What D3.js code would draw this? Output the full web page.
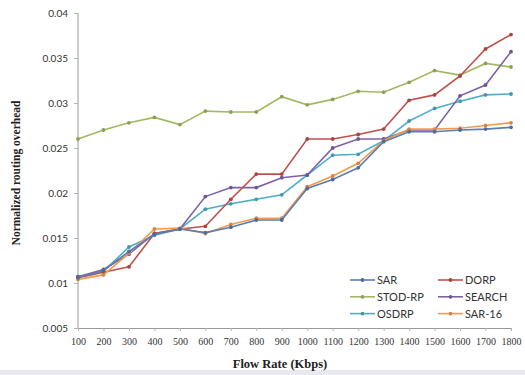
<!DOCTYPE html>
<html>
<head>
<meta charset="utf-8">
<script src="https://cdn.jsdelivr.net/npm/d3@7"></script>
<style>
  body { margin: 0; background: #fff; }
  svg { display: block; }
</style>
</head>
<body>
<div id="chart"></div>
<script>
// flow rates (Kbps)
const flowRates = [100, 200, 300, 400, 500, 600, 700, 800, 900, 1000, 1100, 1200, 1300, 1400, 1500, 1600, 1700, 1800];
const yTicks = [0.005, 0.01, 0.015, 0.02, 0.025, 0.03, 0.035, 0.04];

const sar    = [0.0106, 0.0114, 0.0135, 0.0154, 0.0160, 0.0156, 0.0162, 0.0170, 0.0170, 0.0205, 0.0215, 0.0228, 0.0257, 0.0268, 0.0268, 0.0270, 0.0271, 0.0273];
const dorp   = [0.0106, 0.0112, 0.0118, 0.0155, 0.0160, 0.0163, 0.0193, 0.0221, 0.0221, 0.0260, 0.0260, 0.0265, 0.0271, 0.0303, 0.0309, 0.0330, 0.0360, 0.0376];
const stodrp = [0.0260, 0.0270, 0.0278, 0.0284, 0.0276, 0.0291, 0.0290, 0.0290, 0.0307, 0.0298, 0.0304, 0.0313, 0.0312, 0.0323, 0.0336, 0.0331, 0.0344, 0.0340];
const search = [0.0107, 0.0115, 0.0132, 0.0155, 0.0160, 0.0196, 0.0206, 0.0206, 0.0217, 0.0220, 0.0250, 0.0260, 0.0260, 0.0270, 0.0270, 0.0308, 0.0320, 0.0357];
const osdrp  = [0.0107, 0.0113, 0.0140, 0.0153, 0.0160, 0.0182, 0.0188, 0.0193, 0.0198, 0.0220, 0.0242, 0.0243, 0.0258, 0.0280, 0.0294, 0.0302, 0.0309, 0.0310];
const sar16  = [0.0104, 0.0109, 0.0133, 0.0160, 0.0161, 0.0155, 0.0165, 0.0172, 0.0172, 0.0207, 0.0219, 0.0233, 0.0258, 0.0271, 0.0271, 0.0272, 0.0275, 0.0278];

// drawing order + legend order (2 columns)
const series = [
  { name: "STOD-RP", values: stodrp, color: "#a3b862" },
  { name: "OSDRP",   values: osdrp,  color: "#4eaec8" },
  { name: "SEARCH",  values: search, color: "#7e62a3" },
  { name: "DORP",    values: dorp,   color: "#c0504d" },
  { name: "SAR-16",  values: sar16,  color: "#f49a4e" },
  { name: "SAR",     values: sar,    color: "#5a7db3" }
];
const legendOrder = ["SAR", "DORP", "STOD-RP", "SEARCH", "OSDRP", "SAR-16"];

const width = 525, height = 375;
const margin = { left: 78, right: 14, top: 13, bottom: 47 };

const svg = d3.select("#chart").append("svg")
    .attr("width", width)
    .attr("height", height);

// light strip at the bottom of the picture
svg.append("rect")
    .attr("x", 0).attr("y", 370)
    .attr("width", width).attr("height", 5)
    .attr("fill", "#e7eaee");

const x = d3.scalePoint()
    .domain(flowRates)
    .range([margin.left, width - margin.right]);

const y = d3.scaleLinear()
    .domain([0.005, 0.04])
    .range([height - margin.bottom, margin.top]);

const xAxis = svg.append("g")
    .attr("transform", "translate(0," + (height - margin.bottom) + ")")
    .call(d3.axisBottom(x).tickSize(3).tickPadding(7));

const yAxis = svg.append("g")
    .attr("transform", "translate(" + margin.left + ",0)")
    .call(d3.axisLeft(y).tickValues(yTicks).tickSize(4).tickPadding(6)
        .tickFormat(d => d3.format("")(+d.toFixed(3))));

[xAxis, yAxis].forEach(g => {
  g.select(".domain").attr("stroke", "#9a9a9a");
  g.selectAll(".tick line").attr("stroke", "#b5b5b5");
  g.selectAll(".tick text")
      .attr("fill", "#333")
      .style("font-size", "10px");
});
xAxis.selectAll(".tick text").style("font-family", "'Liberation Serif', 'Times New Roman', serif");
yAxis.selectAll(".tick text").style("font-family", "Lato, 'Open Sans', sans-serif");
yAxis.select(".domain").attr("d", "M0," + y(0.005) + "V" + y(0.04));

const line = d3.line()
    .x((d, i) => x(flowRates[i]))
    .y(d => y(d));

series.forEach(s => {
  svg.append("path")
      .datum(s.values)
      .attr("fill", "none")
      .attr("stroke", s.color)
      .attr("stroke-width", 1.6)
      .attr("d", line);

  svg.append("g").selectAll("circle")
      .data(s.values)
      .enter().append("circle")
      .attr("cx", (d, i) => x(flowRates[i]))
      .attr("cy", d => y(d))
      .attr("r", 1.9)
      .attr("fill", d3.color(s.color).darker(0.4));
});

// axis titles
svg.append("text")
    .attr("transform", "translate(20,173) rotate(-90)")
    .attr("text-anchor", "middle")
    .style("font-family", "'Liberation Serif', 'Times New Roman', serif")
    .style("font-weight", "bold")
    .style("font-size", "11.5px")
    .attr("fill", "#222")
    .text("Normalized routing overhead");

svg.append("text")
    .attr("x", 280)
    .attr("y", 368)
    .attr("text-anchor", "middle")
    .style("font-family", "'Liberation Serif', 'Times New Roman', serif")
    .style("font-weight", "bold")
    .style("font-size", "12.5px")
    .attr("fill", "#222")
    .text("Flow Rate (Kbps)");

// legend
const legend = svg.append("g");
legendOrder.forEach((name, i) => {
  const s = series.find(d => d.name === name);
  const lx = 350 + (i % 2) * 88;
  const ly = 280 + Math.floor(i / 2) * 16.8;
  legend.append("line")
      .attr("x1", lx).attr("x2", lx + 25)
      .attr("y1", ly).attr("y2", ly)
      .attr("stroke", s.color).attr("stroke-width", 1.6);
  legend.append("circle")
      .attr("cx", lx + 12.5).attr("cy", ly).attr("r", 1.9)
      .attr("fill", d3.color(s.color).darker(0.4));
  legend.append("text")
      .attr("x", lx + 27).attr("y", ly + 4)
      .style("font-family", "Lato, 'Open Sans', sans-serif")
      .style("font-size", "11px")
      .attr("fill", "#333")
      .text(name);
});
</script>
</body>
</html>
